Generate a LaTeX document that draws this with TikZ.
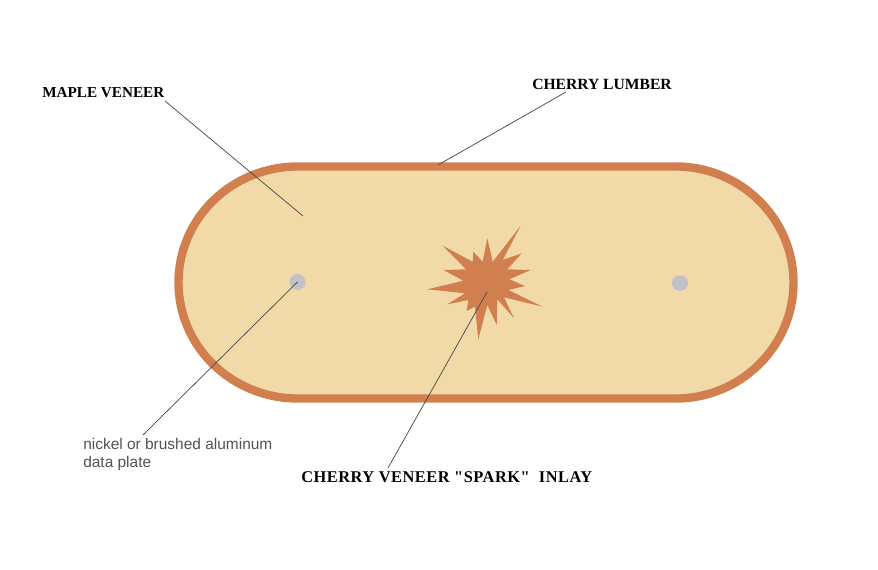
\documentclass[tikz,border=0pt]{standalone}
\usepackage{fontspec}
\newfontfamily\titlefont{Liberation Serif Bold}
\newfontfamily\sparkfont[LetterSpace=3]{Liberation Serif Bold}
\newfontfamily\lumberfont{Liberation Serif Bold}
\newfontfamily\platefont{Liberation Sans}
\definecolor{maple}{HTML}{F2DAA8}
\definecolor{cherry}{HTML}{D27F50}
\definecolor{plate}{HTML}{C3C2C8}
\definecolor{leader}{HTML}{4A4A48}
\tikzset{
  title/.style={font=\titlefont\fontsize{11.4pt}{13pt}\selectfont, text=black, inner sep=0pt, anchor=west},
  platelabel/.style={font=\platefont\fontsize{11.6pt}{13.5pt}\selectfont, text=black!68, inner sep=0pt, anchor=north west, align=left},
  leaderline/.style={draw=leader, line width=0.55pt},
  dot/.style={circle, fill=plate, draw=none, minimum size=12pt, inner sep=0pt}
}
\begin{document}
\begin{tikzpicture}[x=0.75pt,y=-0.75pt]
\useasboundingbox (0,0) rectangle (878,570);
% tray
\draw[fill=maple, draw=cherry, line width=6.3pt]
  (298,166.5) -- (676,166.5)
  .. controls (740,166.5) and (793.5,218) .. (793.5,282.5)
  .. controls (793.5,347) and (740,398.5) .. (676,398.5)
  -- (298,398.5)
  .. controls (232,398.5) and (178.5,347) .. (178.5,282.5)
  .. controls (178.5,218) and (232,166.5) .. (298,166.5) -- cycle;
% spark
\fill[cherry] (520.7,225.7) -- (502.7,260) -- (521.7,253.3) -- (507.3,269.3) -- (530.7,270) -- (509.3,279.3) -- (525,286) -- (508.3,290) -- (542.7,306.7) -- (504,297.3) -- (514,318.3) -- (497.3,299.3) -- (496.7,325) -- (487.3,305) -- (478.3,339.3) -- (475,306.7) -- (466.7,311) -- (468.3,300) -- (447.3,304.3) -- (465,293.3) -- (427.3,289.3) -- (463.3,280.7) -- (443.3,270) -- (466,269.3) -- (442.7,245.7) -- (472.7,261.7) -- (473.3,251.7) -- (482.7,261.7) -- (487.3,238.3) -- (492.7,261.7) -- cycle;
% plates
\node[dot] (plateL) at (297.5,282) {};
\node[dot] (plateR) at (680,283) {};
% labels
\node[title] (maple) at (42,93) {MAPLE VENEER};
\node[title, font=\lumberfont\fontsize{11.7pt}{13pt}\selectfont] (lumber) at (532,84) {CHERRY LUMBER};
\node[title, font=\sparkfont\fontsize{12.3pt}{13pt}\selectfont] (spark) at (301,477) {CHERRY VENEER "SPARK"\ \ INLAY};
\node[platelabel] (platetxt) at (83,438) {nickel or brushed aluminum\\data plate};
% leader ends
\coordinate (mapleEnd) at (165,101);
\coordinate (mapleTip) at (303,216);
\coordinate (lumberEnd) at (566,92);
\coordinate (lumberTip) at (438,165);
\coordinate (plateEnd) at (143,435);
\coordinate (sparkEnd) at (388,468);
\coordinate (sparkTip) at (487,292);
\draw[leaderline] (mapleEnd) -- (mapleTip);
\draw[leaderline] (lumberEnd) -- (lumberTip);
\draw[leaderline] (plateEnd) -- (plateL.center);
\draw[leaderline] (sparkEnd) -- (sparkTip);
\end{tikzpicture}
\end{document}
